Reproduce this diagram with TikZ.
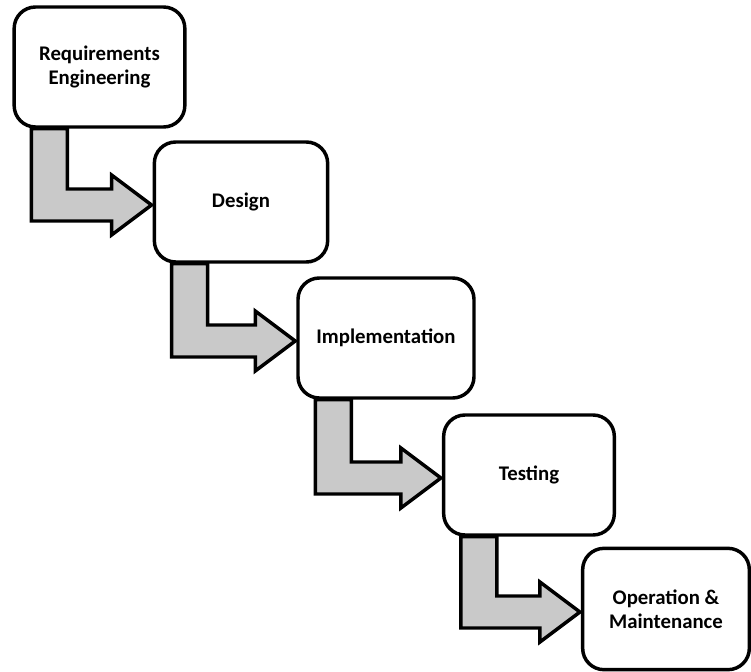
\documentclass[tikz,border=0pt]{standalone}
\usepackage{fontspec}
\setmainfont{Carlito}
\usetikzlibrary{calc}
\tikzset{
  phase/.style={draw, line width=2.6pt, rounded corners=16pt, fill=white,
    minimum width=128pt, minimum height=90pt, align=center,
    font=\bfseries\fontsize{15.6}{18}\selectfont},
  flowarrow/.style={draw, line width=2.6pt, fill=black!21, line join=miter}
}
\newcommand{\phasearrow}[2]{%
\draw[flowarrow] ($(#1.south west)+(19,0)$)
  |- ($(#2.west)+(-41,19)$)
  -- ++(0,14)
  -- ($(#2.west)+(-1,3)$)
  -- ++(-40,-30)
  -- ++(0,14)
  -| ($(#1.south west)+(55,0)$)
  -- cycle;}
\begin{document}
\begin{tikzpicture}[x=0.75pt, y=-0.75pt]
\useasboundingbox (0,0) rectangle (751,672);
\node[phase] (req) at (99.5, 67) {Requirements\\Engineering};
\node[phase, minimum width=130pt] (des) at (241, 202) {Design};
\node[phase, minimum width=132pt] (imp) at (386, 338) {Implementation};
\node[phase] (tst) at (529, 475) {Testing};
\node[phase, minimum width=125pt, minimum height=91pt] (ops) at (666, 609) {Operation \&\\Maintenance};
\phasearrow{req}{des}
\phasearrow{des}{imp}
\phasearrow{imp}{tst}
\phasearrow{tst}{ops}
\end{tikzpicture}
\end{document}
